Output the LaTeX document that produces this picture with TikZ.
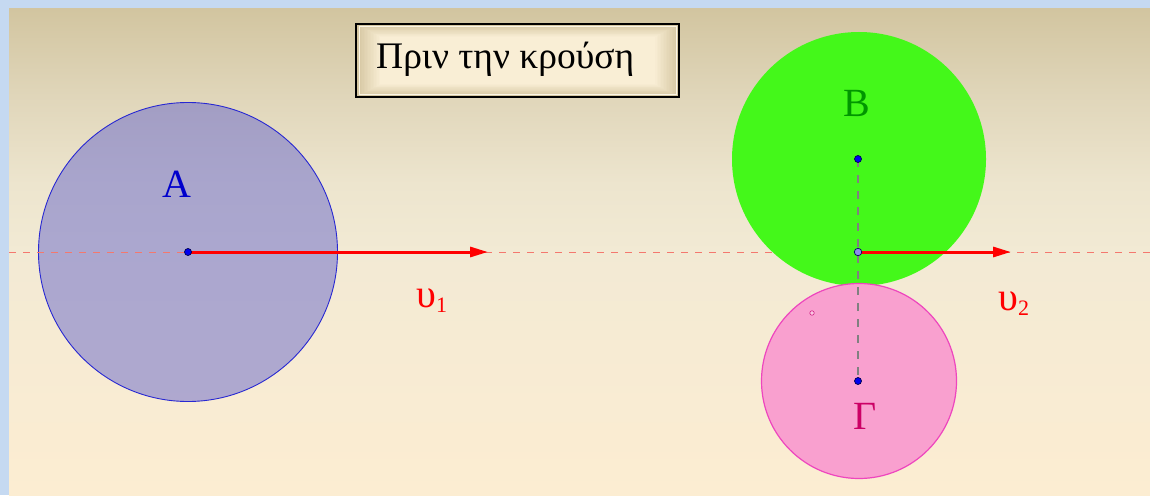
\documentclass[tikz,border=0pt]{standalone}
\usepackage{fontspec}
\setmainfont{Liberation Serif}
\usetikzlibrary{arrows.meta}
\definecolor{frameblue}{RGB}{197,217,241}
\definecolor{boxlight}{RGB}{249,238,213}
\definecolor{boxdark}{RGB}{212,197,160}
\definecolor{afill}{RGB}{102,102,204}
\definecolor{aedge}{RGB}{40,40,210}
\definecolor{bfill}{RGB}{68,248,26}
\definecolor{gfill}{RGB}{249,160,207}
\definecolor{gedge}{RGB}{238,70,190}
\definecolor{alabel}{RGB}{0,0,204}
\definecolor{blabel}{RGB}{0,150,0}
\definecolor{glabel}{RGB}{204,0,102}
\definecolor{axisred}{RGB}{244,120,110}
\definecolor{ptblue}{RGB}{0,0,240}
\definecolor{ptlight}{RGB}{140,140,235}
\pgfdeclareverticalshading{bgshade}{100bp}{%
  color(0bp)=(rgb,255:red,252;green,237;blue,210);
  color(25bp)=(rgb,255:red,252;green,237;blue,210);
  color(40bp)=(rgb,255:red,247;green,235;blue,211);
  color(50bp)=(rgb,255:red,242;green,234;blue,212);
  color(57bp)=(rgb,255:red,237;green,229;blue,206);
  color(66bp)=(rgb,255:red,224;green,214;blue,186);
  color(75bp)=(rgb,255:red,210;green,197;blue,160);
  color(100bp)=(rgb,255:red,210;green,197;blue,160)}
\tikzset{
  body/.style={circle, inner sep=0pt, outer sep=0pt},
  vec/.style={red, line width=3pt, -{Triangle[length=18pt,width=10pt]}},
  axisline/.style={axisred, line width=1pt, dash pattern=on 7pt off 7pt},
  centreline/.style={gray, line width=1.2pt, dash pattern=on 8pt off 8pt},
  pt/.style={circle, fill=ptblue, draw=black!70!blue, line width=0.7pt, inner sep=0pt, minimum size=7pt},
  lbl/.style={font=\fontsize{40}{48}\selectfont, inner sep=0pt, anchor=base},
  vlbl/.style={font=\fontsize{40}{48}\selectfont, text=red, inner sep=0pt, anchor=base west},
}
\begin{document}
\begin{tikzpicture}[x=1pt,y=-1pt]
\useasboundingbox (0,0) rectangle (1150,495);
\fill[frameblue] (0,0) rectangle (1150,495);
\shade[shading=bgshade] (9,9) rectangle (1150,495);
% body A
\node[body, minimum size=299pt, fill=afill, fill opacity=0.5, draw=aedge, draw opacity=1, line width=0.9pt] (A) at (188,252) {};
% axis line
\coordinate (axL) at (9,252);
\coordinate (axR) at (1150,252);
\draw[axisline] (axL) -- (axR);
% body B
\node[body, minimum size=254pt, fill=bfill] (B) at (859,159) {};
% body Gamma
\node[body, minimum size=195pt, fill=gfill, draw=gedge, line width=1.2pt] (G) at (859,381) {};
% centres
\coordinate (cA) at (188,252);
\coordinate (cB) at (858,159);
\coordinate (cG) at (858,381);
\coordinate (cC) at (858,252);
\coordinate (tipA) at (488,252);
\coordinate (tipC) at (1011,252);
\draw[centreline] (cB) -- (cG);
\draw[vec] (cA) -- (tipA);
\draw[vec] (cC) -- (tipC);
\node[pt] (pA) at (cA) {};
\node[pt] (pB) at (cB) {};
\node[pt] (pG) at (cG) {};
\node[pt, fill=ptlight, draw=black!60!blue, minimum size=7.5pt] (pC) at (cC) {};
\node[circle, inner sep=0pt, minimum size=4.5pt, draw=magenta!70!violet, fill=gfill!60!white, line width=0.6pt] (pS) at (812,313) {};
% labels
\node[lbl, text=alabel] (lA) at (177,197) {Α};
\node[lbl, text=blabel] (lB) at (857,116) {Β};
\node[lbl, text=glabel] (lG) at (865,429) {Γ};
\node[vlbl] (v1) at (416,307) {υ\raisebox{-5pt}{\fontsize{22}{22}\selectfont 1}};
\node[vlbl] (v2) at (998,310) {υ\raisebox{-5pt}{\fontsize{22}{22}\selectfont 2}};
% title box: rectangular glow built from nested rectangles
\foreach \i in {0,...,16}{
  \pgfmathsetmacro{\mix}{100*\i/16}
  \pgfmathsetmacro{\dx}{1.5*\i}
  \pgfmathsetmacro{\dy}{0.8*\i}
  \fill[boxlight!\mix!boxdark] (356+\dx,24+\dy) rectangle (679-\dx,97-\dy);
}
\draw[white!40!boxlight, line width=1pt] (359,27) rectangle (676,94);
\node[draw=black, line width=2pt, inner sep=0pt, minimum width=323pt, minimum height=73pt] (titlebox) at (517.5,60.5) {};
\node[font=\fontsize{37.5}{44}\selectfont, inner sep=0pt, anchor=base west] (title) at (376,68) {Πριν την κρούση};
\end{tikzpicture}
\end{document}
